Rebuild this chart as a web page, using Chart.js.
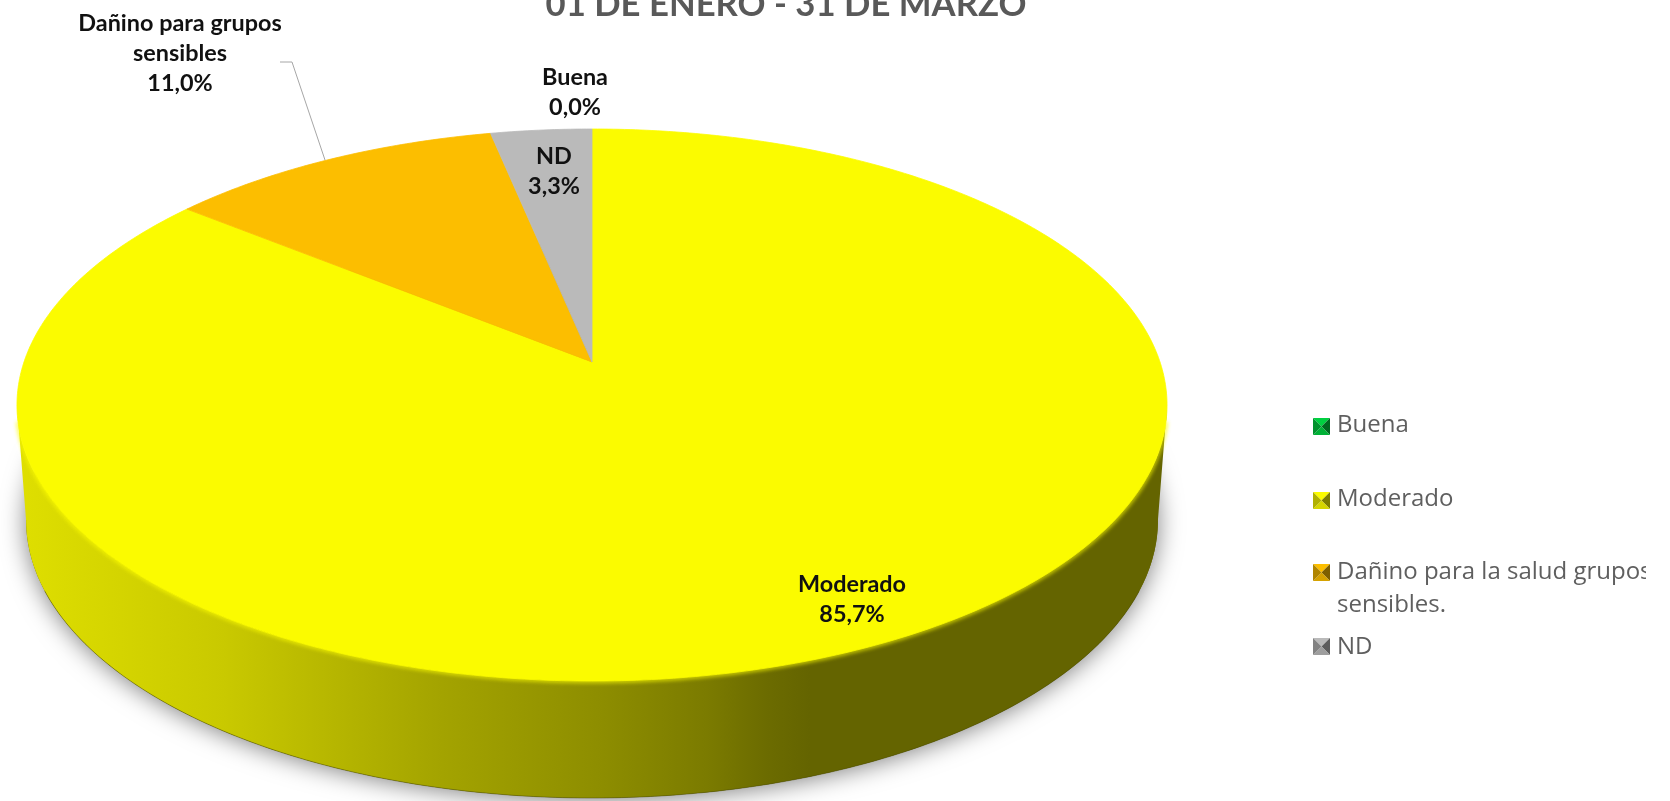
<!DOCTYPE html>
<html>
<head>
<meta charset="utf-8">
<title>01 de enero - 31 de marzo</title>
<script src="https://cdn.jsdelivr.net/npm/chart.js@4/dist/chart.umd.js"></script>
<style>
    html, body { margin: 0; padding: 0; background: #fff; overflow: hidden; }
    canvas { display: block; }
</style>
</head>
<body>
<canvas id="airPie" width="1670" height="801"></canvas>
<script>
// Chart data
const categories = ['Buena', 'Moderado', 'Dañino para la salud grupos sensibles.', 'ND'];
const values = [0.0, 85.7, 11.0, 3.3];
const sliceColors = ['#00D040', '#FBFB00', '#FCBE00', '#BABABA'];
const sliceLabels = [['Buena'], ['Moderado'], ['Dañino para grupos', 'sensibles'], ['ND']];
const titleText = '01 DE ENERO - 31 DE MARZO';

// Centre of each data label (first line), same order as categories
const labelSpots = [[575, 77], [852, 584], [180, 23], [554, 156]];
const leaderLine = [[280, 62], [292, 62], [325, 160]];

// Legend rows: swatch top and the baselines of the text lines
const legendRows = [
    { top: 418, lines: ['Buena'], baselines: [432] },
    { top: 492, lines: ['Moderado'], baselines: [506] },
    { top: 564, lines: ['Dañino para la salud grupos', 'sensibles.'], baselines: [579, 612] },
    { top: 638, lines: ['ND'], baselines: [654] }
];

// Perspective of the disc: the apex sits above the middle of the ellipse
const tilt = 0.1558;
const topFace = { x: 592, y: 362, a: 568, b: 269.3 };
const bottomFace = { x: 592, y: 477, a: 559, b: 271 };

// Chart.js angle (0 = 3 o'clock, clockwise) to a point on the disc
function project(face, angle) {
    const u = Math.cos(angle);
    const v = Math.sin(angle);
    const w = 1 - tilt * v;
    return [face.x + face.a * u / w, face.y + face.b * v / w];
}

function tracePoints(ctx, face, from, to, move) {
    const steps = Math.max(2, Math.ceil(Math.abs(to - from) * 90));
    for (let i = 0; i <= steps; i++) {
        const p = project(face, from + (to - from) * i / steps);
        if (i === 0 && move) ctx.moveTo(p[0], p[1]);
        else ctx.lineTo(p[0], p[1]);
    }
}

function shade(hex, f) {
    const n = parseInt(hex.slice(1), 16);
    const c = [n >> 16, (n >> 8) & 255, n & 255].map(v => Math.round(v * f));
    return `rgb(${c[0]},${c[1]},${c[2]})`;
}

// Arc that draws itself on the tilted disc
class Arc3d extends Chart.ArcElement {
    static id = 'arc3d';
    draw(ctx) {
        const { startAngle, endAngle } = this.getProps(['startAngle', 'endAngle'], true);
        if (endAngle - startAngle <= 0) return;
        ctx.save();
        ctx.beginPath();
        ctx.moveTo(topFace.x, topFace.y);
        tracePoints(ctx, topFace, startAngle, endAngle, false);
        ctx.closePath();
        ctx.fillStyle = this.options.backgroundColor;
        ctx.strokeStyle = this.options.backgroundColor;
        ctx.lineWidth = 0.8;
        ctx.fill();
        ctx.stroke();
        ctx.restore();
    }
}

class Pie3dController extends Chart.PieController {
    static id = 'pie3d';
    static defaults = { dataElementType: 'arc3d' };
}

Chart.register(Arc3d, Pie3dController);

// Soft shadow and side wall of the disc, under the slices
const wallPlugin = {
    id: 'wall',
    beforeDatasetsDraw(chart) {
        const ctx = chart.ctx;
        const arcs = chart.getDatasetMeta(0).data;
        const frontStart = Math.asin(tilt);
        const frontEnd = Math.PI - frontStart;

        ctx.save();
        ctx.beginPath();
        tracePoints(ctx, bottomFace, 0, Math.PI * 2, true);
        ctx.closePath();
        ctx.shadowColor = 'rgba(0,0,0,0.5)';
        ctx.shadowBlur = 24;
        ctx.shadowOffsetY = 2;
        ctx.fillStyle = '#666600';
        ctx.fill();
        ctx.restore();

        arcs.forEach((arc, i) => {
            const a = Math.max(arc.startAngle, frontStart);
            const b = Math.min(arc.endAngle, frontEnd);
            if (b <= a) return;

            const base = sliceColors[i];
            const g = ctx.createLinearGradient(17, 0, 1167, 0);
            g.addColorStop(0, shade(base, 0.89));
            g.addColorStop(0.18, shade(base, 0.80));
            g.addColorStop(0.37, shade(base, 0.65));
            g.addColorStop(0.51, shade(base, 0.56));
            g.addColorStop(0.60, shade(base, 0.49));
            g.addColorStop(0.65, shade(base, 0.43));
            g.addColorStop(0.69, shade(base, 0.40));
            g.addColorStop(1, shade(base, 0.40));

            ctx.save();
            ctx.beginPath();
            tracePoints(ctx, topFace, a, b, true);
            tracePoints(ctx, bottomFace, b, a, false);
            ctx.closePath();
            ctx.fillStyle = g;
            ctx.fill();
            ctx.restore();

            // dark line along the foot of the wall
            ctx.save();
            ctx.beginPath();
            tracePoints(ctx, bottomFace, a + 0.25, b - 0.25, true);
            ctx.strokeStyle = 'rgba(70,70,0,0.45)';
            ctx.lineWidth = 1;
            ctx.stroke();
            // soft edge where the top face meets the wall
            ctx.beginPath();
            tracePoints(ctx, topFace, a + 0.06, b - 0.06, true);
            ctx.filter = 'blur(2px)';
            ctx.strokeStyle = base;
            ctx.lineWidth = 3;
            ctx.stroke();
            ctx.restore();
        });
    }
};

// Title, data labels, leader line and legend
const textPlugin = {
    id: 'texts',
    afterDatasetsDraw(chart) {
        const ctx = chart.ctx;
        ctx.save();
        ctx.textAlign = 'center';
        ctx.textBaseline = 'alphabetic';
        ctx.fillStyle = '#595959';
        ctx.font = 'bold 34.7px Lato';
        ctx.fillText(titleText, 786, 16);

        ctx.strokeStyle = '#A6A6A6';
        ctx.lineWidth = 1;
        ctx.beginPath();
        leaderLine.forEach((p, i) => i ? ctx.lineTo(p[0], p[1]) : ctx.moveTo(p[0], p[1]));
        ctx.stroke();

        ctx.fillStyle = '#111';
        ctx.font = 'bold 23.4px Lato';
        ctx.textBaseline = 'middle';
        sliceLabels.forEach((lines, i) => {
            const text = lines.concat(values[i].toFixed(1).replace('.', ',') + '%');
            text.forEach((t, j) => ctx.fillText(t, labelSpots[i][0], labelSpots[i][1] + j * 30));
        });

        // Legend, the long row is cut at the right as in the picture
        ctx.textAlign = 'left';
        ctx.textBaseline = 'alphabetic';
        ctx.font = '24px "Open Sans"';
        ctx.beginPath();
        ctx.rect(1300, 400, 346, 280);
        ctx.clip();
        legendRows.forEach((row, i) => {
            drawSwatch(ctx, 1313, row.top, 17, sliceColors[i]);
            ctx.fillStyle = '#5f5f5f';
            row.lines.forEach((t, j) => ctx.fillText(t, 1337, row.baselines[j]));
        });
        ctx.restore();
    }
};

// Little pyramid marker of the legend
function drawSwatch(ctx, x, y, s, color) {
    const c = [x + s / 2, y + s / 2];
    const corners = [[x, y], [x + s, y], [x + s, y + s], [x, y + s]];
    const tones = [1, 0.5, 0.85, 0.7];
    corners.forEach((p, i) => {
        const q = corners[(i + 1) % 4];
        ctx.beginPath();
        ctx.moveTo(p[0], p[1]);
        ctx.lineTo(q[0], q[1]);
        ctx.lineTo(c[0], c[1]);
        ctx.closePath();
        ctx.fillStyle = shade(color, tones[i]);
        ctx.fill();
    });
}

new Chart(document.getElementById('airPie'), {
    type: 'pie3d',
    data: {
        labels: categories,
        datasets: [{
            data: values,
            backgroundColor: sliceColors,
            borderWidth: 0
        }]
    },
    options: {
        responsive: false,
        animation: false,
        plugins: {
            legend: { display: false },
            title: { display: false },
            tooltip: { enabled: false }
        }
    },
    plugins: [wallPlugin, textPlugin]
});
</script>
</body>
</html>
